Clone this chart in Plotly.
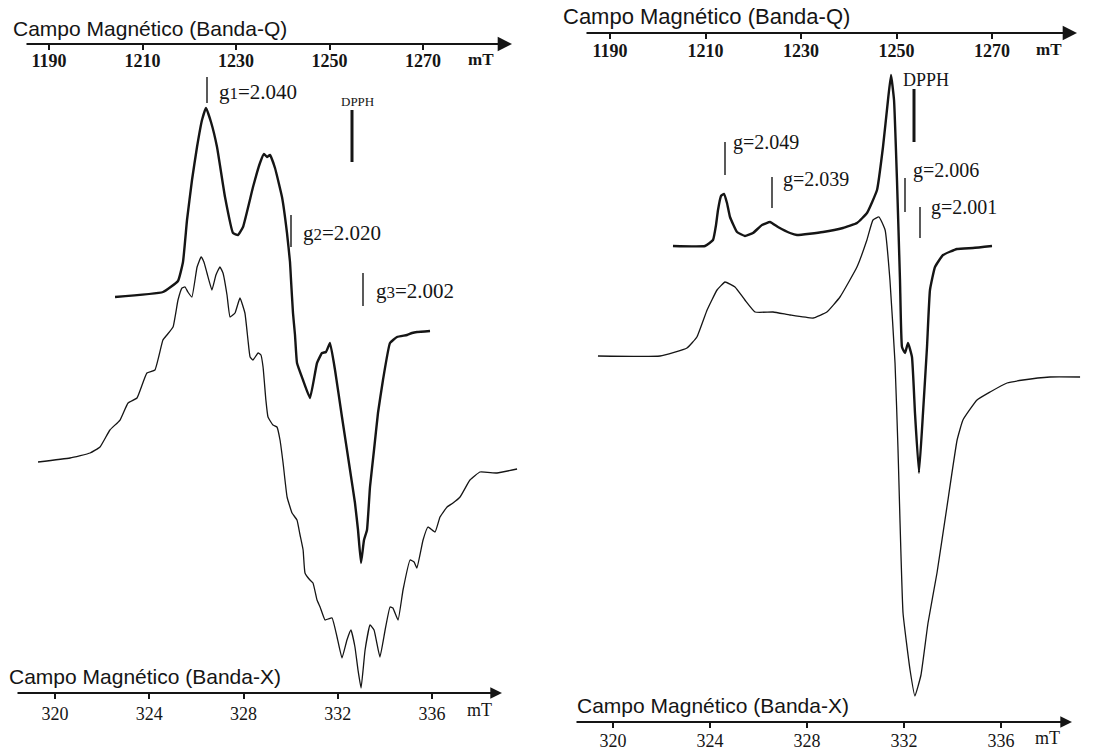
import plotly.graph_objects as go

# ---------------- data (field in mT, derivative signal in arbitrary units) ----------------
# Left panel, Q-band spectrum (thick trace)
lq_field = [1204.12, 1214.39, 1217.59, 1218.66, 1219.52, 1220.59, 1221.66, 1222.73, 1223.58,
            1224.65, 1225.94, 1227.65, 1229.36, 1230.43, 1231.50, 1233.64, 1235.13, 1235.99,
            1236.63, 1237.27, 1238.34, 1239.84, 1240.91, 1241.55, 1241.77, 1242.19, 1242.62,
            1243.05, 1244.33, 1245.83, 1247.33, 1248.40, 1249.25, 1250.11, 1251.18, 1252.67,
            1254.39, 1255.45, 1256.10, 1256.74, 1257.38, 1258.02, 1258.66, 1259.52, 1260.37,
            1261.44, 1262.94, 1264.44, 1266.58, 1267.65, 1268.72, 1271.50]
lq_signal = [0, 5, 16, 35, 77, 117, 150, 177, 189,
             175, 150, 100, 64, 62, 70, 110, 134, 143,
             140, 142, 129, 100, 64, 35, 17, -16, -38,
             -66, -83, -101, -66, -56, -55, -46, -73, -120,
             -173, -206, -233, -266, -243, -233, -190, -153, -116,
             -83, -46, -40, -38, -36, -35, -34]

# Left panel, X-band spectrum (thin trace)
lx_field = [319.28, 320.64, 321.49, 321.91, 322.33, 322.76, 323.10, 323.48, 323.90, 324.24,
            324.58, 324.75, 325.01, 325.22, 325.39, 325.52, 325.64, 325.81, 326.03, 326.20,
            326.32, 326.45, 326.66, 326.83, 327.00, 327.13, 327.30, 327.43, 327.64, 327.85,
            328.06, 328.19, 328.28, 328.40, 328.62, 328.74, 328.83, 328.95, 329.04, 329.25,
            329.42, 329.55, 329.68, 329.85, 330.06, 330.27, 330.40, 330.53, 330.61, 330.82,
            330.95, 331.12, 331.25, 331.46, 331.59, 331.76, 331.97, 332.18, 332.39, 332.56,
            332.73, 332.86, 332.99, 333.16, 333.37, 333.54, 333.79, 334.01, 334.22, 334.34,
            334.56, 334.77, 335.07, 335.24, 335.36, 335.62, 335.83, 336.13, 336.34, 336.64,
            336.89, 337.19, 337.61, 338.04, 338.76, 339.61]
lx_signal = [0, 4, 9, 15, 32, 42, 59, 64, 89, 92,
             122, 127, 135, 162, 174, 175, 170, 165, 195, 205,
             200, 189, 172, 187, 195, 189, 167, 145, 149, 164,
             149, 122, 105, 102, 109, 107, 95, 62, 45, 37,
             35, 22, -1, -35, -51, -58, -73, -88, -111, -118,
             -121, -138, -145, -158, -157, -156, -175, -196, -178, -168,
             -185, -208, -226, -188, -163, -168, -195, -168, -145, -146,
             -158, -128, -98, -100, -106, -78, -65, -70, -55, -45,
             -41, -35, -18, -10, -11, -7]

# Right panel, Q-band spectrum (thick trace)
rq_field = [1203.19, 1209.90, 1211.57, 1212.20, 1212.62, 1213.25, 1213.87, 1214.50, 1215.13,
            1216.60, 1218.27, 1219.95, 1221.83, 1223.51, 1225.18, 1227.70, 1229.16, 1234.61,
            1238.79, 1241.73, 1243.82, 1245.92, 1247.17, 1248.22, 1248.85, 1249.48, 1250.10,
            1250.73, 1251.15, 1251.78, 1252.41, 1253.24, 1253.87, 1254.71, 1255.55, 1256.39,
            1257.01, 1258.06, 1259.74, 1262.67, 1266.02, 1270.00]
rq_signal = [0, 0, 6, 21, 36, 50, 52, 43, 29,
             14, 10, 13, 21, 24, 19, 13, 11, 14,
             18, 23, 33, 56, 99, 146, 171, 146, 66,
             -34, -101, -107, -97, -111, -167, -227, -167, -101,
             -44, -21, -9, -3, -2, 0]

# Right panel, X-band spectrum (thin trace)
rx_field = [319.38, 321.94, 323.05, 323.46, 323.88, 324.29, 324.62, 325.03, 325.44, 325.86,
            326.60, 327.30, 328.25, 328.82, 329.36, 330.06, 330.47, 330.72, 330.97, 331.22,
            331.42, 331.63, 331.75, 331.96, 332.25, 332.45, 332.70, 332.99, 333.36, 333.77,
            334.19, 334.43, 335.01, 335.55, 336.25, 336.91, 338.02, 339.26]
rx_signal = [0, 0, 8, 19, 46, 66, 74, 69, 56, 44,
             44, 41, 38, 44, 59, 89, 116, 136, 139, 126,
             76, -7, -91, -257, -314, -340, -319, -267, -217, -151,
             -84, -64, -44, -36, -27, -24, -21, -21]

q_ticks = [1190, 1210, 1230, 1250, 1270]
x_ticks = [320, 324, 328, 332, 336]
q_tick_labels = [str(v) for v in q_ticks]
x_tick_labels = [str(v) for v in x_ticks]

# ---------------- layout helpers ----------------
W, H = 1111, 751
INK = "#151515"
SERIF = "Liberation Serif, Times New Roman, serif"
SANS = "Liberation Sans, Arial, sans-serif"

LEFT_DOM = (0, 540)
RIGHT_DOM = (560, W)

# calibration: (reference value, its pixel, pixels per mT)
CAL = {
    "x":  (1190, 49, 4.675),
    "x2": (320, 55, 23.5625),
    "x3": (1190, 610, 4.775),
    "x4": (320, 613, 24.25),
}


def axis_range(name, dom):
    v0, p0, s = CAL[name]
    return [v0 - (p0 - dom[0]) / s, v0 + (dom[1] - p0) / s]


def field_at(name, px):
    v0, p0, s = CAL[name]
    return v0 + (px - p0) / s


def px_x(px):
    return px / W


def px_y(py):
    return 1 - py / H


# vertical offsets (baseline positions) of each trace in the y data space [0, H]
OFF = {"lq": H - 297, "lx": H - 462, "rq": H - 246, "rx": H - 356}

fig = go.Figure()


def add_curve(xs, sig, off, xa, ya, width):
    fig.add_trace(go.Scatter(
        x=xs, y=[off + v for v in sig], xaxis=xa, yaxis=ya, mode="lines",
        line=dict(color=INK, width=width, shape="spline", smoothing=0.35),
        hoverinfo="skip", showlegend=False))


add_curve(lq_field, lq_signal, OFF["lq"], "x", "y", 2.4)
add_curve(lx_field, lx_signal, OFF["lx"], "x2", "y", 1.3)
add_curve(rq_field, rq_signal, OFF["rq"], "x3", "y2", 2.4)
add_curve(rx_field, rx_signal, OFF["rx"], "x4", "y2", 1.3)


def xaxis_cfg(name, dom, line_py, ticks, labels, bold, fsize, standoff, overlay=None):
    cfg = dict(
        domain=[dom[0] / W, dom[1] / W], range=axis_range(name, dom),
        anchor="free", position=px_y(line_py), side="bottom",
        showline=False, showgrid=False, zeroline=False,
        ticks="outside", ticklen=5, tickwidth=1.6, tickcolor=INK,
        tickvals=ticks, ticktext=[f"<b>{t}</b>" if bold else t for t in labels],
        tickfont=dict(family=SERIF, size=fsize, color=INK),
        ticklabelstandoff=standoff, fixedrange=True,
    )
    if overlay:
        cfg["overlaying"] = overlay
    return cfg


AX_LINE = {"x": 44, "x2": 693, "x3": 33, "x4": 722}
AX_EXT = {"x": (25, 512), "x2": (16, 502), "x3": (585, 1077), "x4": (575, 1072)}

layout = dict(
    width=W, height=H, margin=dict(l=0, r=0, t=0, b=0),
    paper_bgcolor="white", plot_bgcolor="rgba(0,0,0,0)", showlegend=False,
    xaxis=xaxis_cfg("x", LEFT_DOM, AX_LINE["x"], q_ticks, q_tick_labels, True, 18, -5),
    xaxis2=xaxis_cfg("x2", LEFT_DOM, AX_LINE["x2"], x_ticks, x_tick_labels, False, 18, -1, "x"),
    xaxis3=xaxis_cfg("x3", RIGHT_DOM, AX_LINE["x3"], q_ticks, q_tick_labels, True, 18, -4),
    xaxis4=xaxis_cfg("x4", RIGHT_DOM, AX_LINE["x4"], x_ticks, x_tick_labels, False, 18, -3, "x3"),
    yaxis=dict(domain=[0, 1], range=[0, H], visible=False, anchor="x", fixedrange=True),
    yaxis2=dict(domain=[0, 1], range=[0, H], visible=False, anchor="x3", fixedrange=True),
)
fig.update_layout(**layout)

annotations = []
shapes = []

# axis lines with arrowheads (drawn in each axis' own field units)
for name, ya in (("x", "y"), ("x2", "y"), ("x3", "y2"), ("x4", "y2")):
    p0, p1 = AX_EXT[name]
    yv = H - AX_LINE[name]
    thick = 2.2 if name in ("x", "x3") else 1.8
    annotations.append(dict(
        x=field_at(name, p1), y=yv, xref=name, yref=ya,
        ax=field_at(name, p0), ay=yv, axref=name, ayref=ya,
        text="", showarrow=True, arrowhead=2, arrowsize=1.3, arrowwidth=thick,
        arrowcolor=INK, standoff=0, startstandoff=0))

# axis titles and unit labels
def text(px, py, s, family, size, anchor="left"):
    annotations.append(dict(
        x=px_x(px), y=px_y(py), xref="paper", yref="paper", text=s, showarrow=False,
        xanchor=anchor, yanchor="middle", font=dict(family=family, size=size, color=INK)))

text(11, 28, "Campo Magnético (Banda-Q)", SANS, 21)
text(561, 16, "Campo Magnético (Banda-Q)", SANS, 22)
text(7, 676, "Campo Magnético (Banda-X)", SANS, 21)
text(575, 705, "Campo Magnético (Banda-X)", SANS, 21)
text(466, 60, "<b>mT</b>", SERIF, 17)
text(1034, 50, "<b>mT</b>", SERIF, 17)
text(465, 710, "mT", SERIF, 18)
text(1033, 738, "mT", SERIF, 18)


def vline(px, y0, y1, width=1.4):
    shapes.append(dict(type="line", xref="paper", yref="paper",
                       x0=px_x(px), x1=px_x(px), y0=px_y(y0), y1=px_y(y1),
                       line=dict(color=INK, width=width)))


# left panel markers
vline(207, 77, 103)
text(217, 92, "g<span style='font-size:17px'>1</span>=2.040", SERIF, 21)
vline(352, 110, 162, 3)
text(339, 102, "DPPH", SERIF, 13)
vline(291, 215, 247)
text(301, 233, "g<span style='font-size:17px'>2</span>=2.020", SERIF, 21)
vline(363, 273, 306)
text(374, 291, "g<span style='font-size:17px'>3</span>=2.002", SERIF, 21)

# right panel markers
vline(725, 142, 175)
text(731, 143, "g=2.049", SERIF, 20)
vline(772, 177, 208)
text(781, 180, "g=2.039", SERIF, 20)
vline(914, 89, 142, 3)
text(901, 80, "DPPH", SERIF, 18)
vline(905, 178, 212)
text(911, 170, "g=2.006", SERIF, 20)
vline(920, 207, 238)
text(929, 208, "g=2.001", SERIF, 20)

fig.update_layout(annotations=annotations, shapes=shapes)

fig.write_html("out.html")
